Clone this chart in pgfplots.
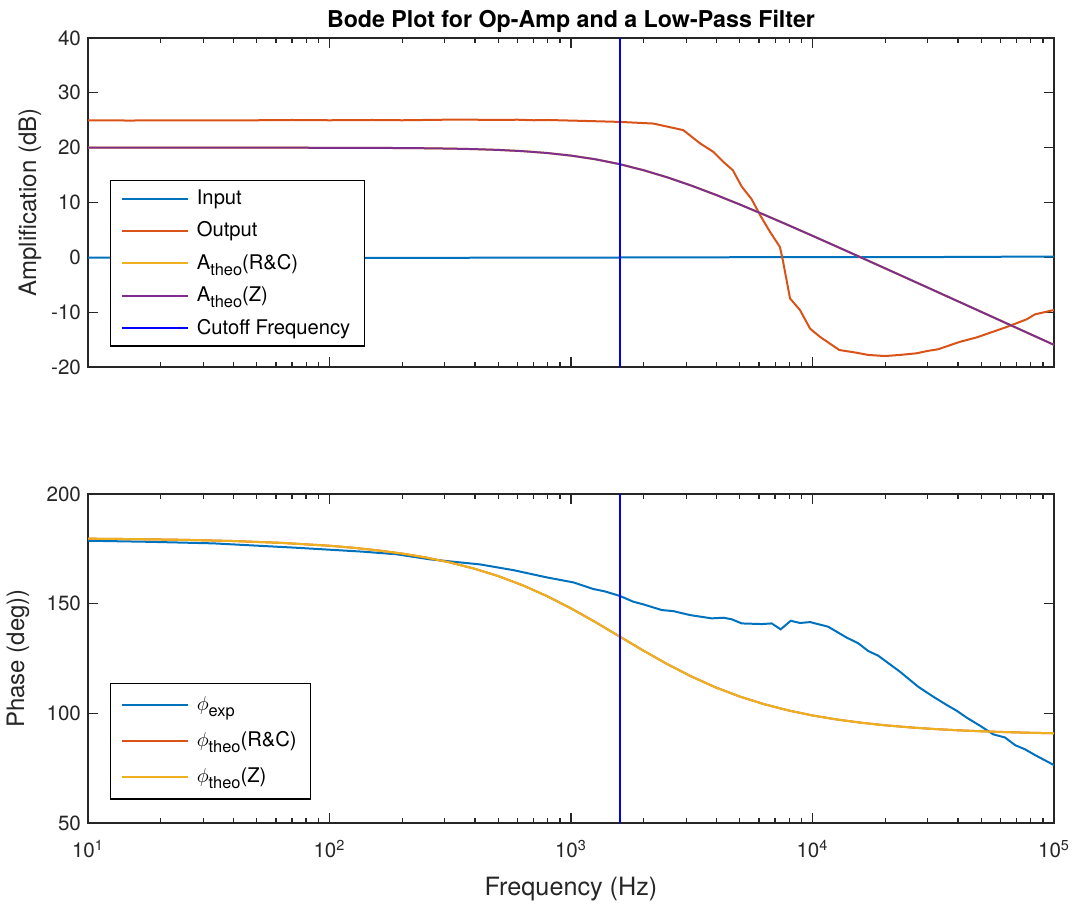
\documentclass[border=0pt]{standalone}
\usepackage{fontspec}
\setmainfont{TeX Gyre Heros}
\usepackage{pgfplots}
\usepackage{pgfplotstable}
\pgfplotsset{compat=1.18}

\definecolor{mblue}{rgb}{0,0.447,0.741}
\definecolor{morange}{rgb}{0.850,0.325,0.098}
\definecolor{myellow}{rgb}{0.929,0.694,0.125}
\definecolor{mpurple}{rgb}{0.494,0.184,0.556}
\definecolor{axgray}{rgb}{0.15,0.15,0.15}

% measured input / output amplification
\pgfplotstableread{
f A
10 -0.05
100 -0.1
300 -0.08
1000 -0.05
3000 0
10000 0.05
30000 0.05
100000 0.15
}\indata

\pgfplotstableread{
f A
10 25.0
15 24.95
20 25.0
30 25.0
50 25.0
70 25.05
100 25.0
150 25.05
200 25.0
300 25.1
400 25.1
500 25.05
600 25.1
700 25.0
800 25.05
1089 24.9
1596 24.7
2193 24.4
2917 23.2
3420 20.8
3882 19.25
4276 17.4
4677 15.9
5093 12.9
5598 10.6
6067 7.7
6668 4.65
7328 1.9
7534 -0.5
8072 -7.5
8872 -9.6
9772 -13.0
10740 -14.5
12910 -16.9
15240 -17.4
17020 -17.8
19950 -18.0
23010 -17.8
26980 -17.5
29720 -17.1
33190 -16.75
40830 -15.4
47860 -14.6
63680 -12.7
77090 -11.3
83370 -10.4
100000 -9.6
}\outdata

% theoretical curves
\pgfplotstableread{
f A phi
10 20.000 179.64
15.85 20.000 179.43
25.12 19.999 179.10
39.81 19.997 178.57
63.10 19.993 177.73
100 19.983 176.41
125.9 19.973 175.48
158.5 19.957 174.31
199.5 19.932 172.86
251.2 19.893 171.03
316.2 19.832 168.76
398.1 19.737 165.96
501.2 19.589 162.52
631.0 19.366 158.38
794.3 19.034 153.48
1000 18.555 147.86
1259 17.890 141.66
1585 17.009 135.13
1995 15.899 128.59
2512 14.572 122.37
3162 13.057 116.72
3981 11.394 111.79
5012 9.620 107.62
6310 7.770 104.16
7943 5.867 101.33
10000 3.929 99.04
12589 1.969 97.21
15849 -0.006 95.74
19953 -1.990 94.56
25119 -3.980 93.63
31623 -5.973 92.88
39811 -7.969 92.29
50119 -9.966 91.82
63096 -11.965 91.45
79433 -13.964 91.15
100000 -15.964 90.91
}\theodata

% measured phase
\pgfplotstableread{
f phi
10 178.7
18 178.2
33 177.5
73 175.5
138 173.7
190 172.5
261 170.2
420 167.9
577 165.3
793 162.0
1023 159.7
1236 156.7
1382 155.6
1596 153.5
1812 150.9
1991 149.7
2375 147.1
2655 146.6
3112 144.8
3828 143.3
4276 143.6
4624 142.9
5093 141.0
6166 140.7
6776 141.0
7379 138.3
8128 142.2
8872 141.2
9772 141.6
11610 139.5
13870 134.5
15490 131.9
17020 128.4
18710 126.3
23010 119.0
27420 112.1
31620 107.6
35970 103.8
39540 101.2
43550 98.0
49320 94.4
56100 90.4
62660 89.0
69020 85.5
75860 83.6
83370 81.0
100000 76.4
}\phasedata

\newcommand{\sub}[1]{\raisebox{-0.55ex}{\fontsize{8.2}{9}\selectfont #1}}

\pgfplotsset{
  every axis/.append style={
    scale only axis, width=483pt, height=164.5pt,
    xmin=10, xmax=1e5,
    axis line style={draw=axgray, line width=0.6pt},
    tick align=inside, tick pos=both,
    major tick length=5pt, minor tick length=2.5pt,
    tick style={draw=axgray, line width=0.6pt},
    tick label style={font=\fontsize{10.3}{12}\selectfont, text=axgray},
    label style={font=\fontsize{12}{14}\selectfont, text=axgray},
    legend cell align=left,
    legend style={draw=black, line width=0.6pt, font=\fontsize{10.1}{12}\selectfont,
      inner xsep=5pt, inner ysep=2.5pt, row sep=3.2pt},
  },
  legend image code/.code={\draw[#1] (0pt,0pt) -- (33pt,0pt); \path (35pt,0pt);},
  every axis plot/.append style={line width=1pt, no markers},
}

\begin{document}
\begin{tikzpicture}
\useasboundingbox (-44pt,-270pt) rectangle (494pt,183.5pt);

\begin{axis}[xmode=log, name=top,
  at={(0,0)}, anchor=south west,
  /pgf/number format/assume math mode=true,
  ymin=-20, ymax=40, ytick={-20,-10,...,40},
  xtick={10,100,1000,10000,100000}, xticklabels={},
  ylabel={Amplification (dB)},
  ylabel style={at={(axis description cs:-0.06,0.5)}, anchor=center},
  title={Bode Plot for Op-Amp and a Low-Pass Filter},
  title style={font=\bfseries\fontsize{11.6}{13}\selectfont, at={(axis description cs:0.5,1)}, anchor=base, yshift=-0.5pt},
  legend style={at={(0.023,0.568)}, anchor=north west},
]
\addplot[mblue] table[x=f, y=A] {\indata};
\addlegendentry{Input}
\addplot[morange] table[x=f, y=A] {\outdata};
\addlegendentry{Output}
\addplot[myellow] table[x=f, y=A] {\theodata};
\addlegendentry{A\sub{theo}(R\&C)}
\addplot[mpurple] table[x=f, y=A] {\theodata};
\addlegendentry{A\sub{theo}(Z)}
\addplot[blue] coordinates {(1592,-20) (1592,40)};
\addlegendentry{Cutoff Frequency}
\end{axis}

\begin{axis}[xmode=log,
  at={(0,-63.5pt)}, anchor=north west,
  /pgf/number format/assume math mode=true,
  ymin=50, ymax=200, ytick={50,100,150,200},
  xtick={10,100,1000,10000,100000},
  xticklabels={10\textsuperscript{1},10\textsuperscript{2},10\textsuperscript{3},10\textsuperscript{4},10\textsuperscript{5}},
  xticklabel style={yshift=-5pt},
  xlabel={Frequency (Hz)},
  xlabel style={at={(axis description cs:0.5,-0.2)}, anchor=center, font=\fontsize{12.6}{14}\selectfont},
  ylabel={Phase (deg))},
  ylabel style={at={(axis description cs:-0.0725,0.5)}, anchor=center},
  legend style={at={(0.023,0.426)}, anchor=north west, inner ysep=4.5pt, row sep=5.2pt},
]
\addplot[mblue] table[x=f, y=phi] {\phasedata};
\addlegendentry{$\phi$\sub{exp}}
\addplot[morange] table[x=f, y=phi] {\theodata};
\addlegendentry{$\phi$\sub{theo}(R\&C)}
\addplot[myellow] table[x=f, y=phi] {\theodata};
\addlegendentry{$\phi$\sub{theo}(Z)}
\addplot[blue, forget plot] coordinates {(1592,50) (1592,200)};
\end{axis}
\end{tikzpicture}
\end{document}
